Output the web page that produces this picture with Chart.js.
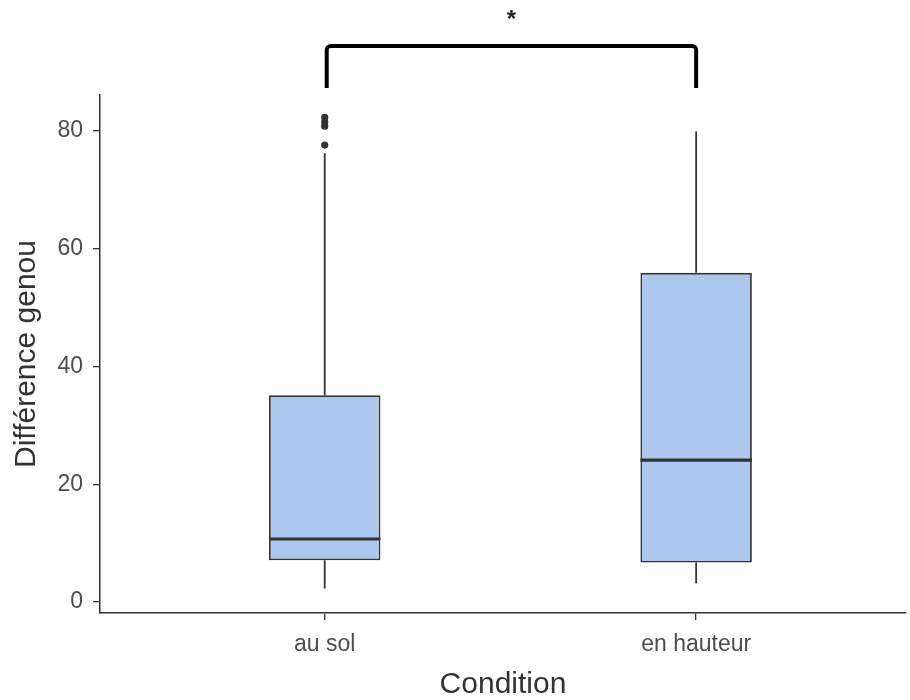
<!DOCTYPE html>
<html>
<head>
<meta charset="utf-8">
<script src="https://cdn.jsdelivr.net/npm/chart.js@4"></script>
<style>
  html, body { margin: 0; background: #fff; }
</style>
</head>
<body>
<canvas id="chart" width="910" height="700"></canvas>
<script>
// boxplot stats
const CATEGORIES = ['au sol', 'en hauteur'];
const WHISKER_LO = [2.3, 3.2];
const Q1 = [7.1, 6.7];
const MEDIAN = [10.7, 24.1];
const Q3 = [35.1, 55.9];
const WHISKER_HI = [76.2, 79.9];
const OUTLIERS = [[77.6, 80.8, 81.5, 82.3], []];
const Y_TICKS = [0, 20, 40, 60, 80];
const SIGNIF = '*';

const BOX_W = 0.3; // box width in x units
const FONT = '"Liberation Sans", Arial, sans-serif';
const TICK_COLOR = '#4d4d4d', LINE_COLOR = '#333333';

const whiskerData = [], medianData = [], outlierData = [];
CATEGORIES.forEach((c, i) => {
    const x = i + 1;
    whiskerData.push({x, y: WHISKER_LO[i]}, {x, y: Q1[i]}, {x, y: null},
                     {x, y: Q3[i]}, {x, y: WHISKER_HI[i]}, {x, y: null});
    medianData.push({x: x - BOX_W / 2, y: MEDIAN[i]}, {x: x + BOX_W / 2, y: MEDIAN[i]}, {x: x + 0.5, y: null});
    OUTLIERS[i].forEach(v => outlierData.push({x, y: v}));
});

// significance bracket drawn above the plot, anchored on the x scale
const bracketPlugin = {
    id: 'signifBracket',
    afterDraw(chart) {
        const {ctx, chartArea, scales: {x}} = chart;
        const x1 = x.getPixelForValue(1) + 2, x2 = x.getPixelForValue(2);
        const yBar = chartArea.top - 49, yLeg = chartArea.top - 7, r = 4;
        ctx.save();
        ctx.strokeStyle = '#000'; ctx.lineWidth = 4;
        ctx.beginPath();
        ctx.moveTo(x1, yLeg);
        ctx.arcTo(x1, yBar, x1 + r, yBar, r);
        ctx.arcTo(x2, yBar, x2, yBar + r, r);
        ctx.lineTo(x2, yLeg);
        ctx.stroke();
        ctx.fillStyle = '#222';
        ctx.font = 'bold 24px ' + FONT;
        ctx.textAlign = 'center'; ctx.textBaseline = 'alphabetic';
        ctx.fillText(SIGNIF, (x1 + x2) / 2, chartArea.top - 68);
        ctx.restore();
    }
};

const axisCommon = (title, titlePad) => ({
    type: 'linear',
    offset: false,
    border: {display: true, color: LINE_COLOR, width: 1.5},
    grid: {display: true, offset: false, drawOnChartArea: false, drawTicks: true, tickLength: 7, color: LINE_COLOR, lineWidth: 1.3},
    ticks: {font: {family: FONT, size: 23}, color: TICK_COLOR, padding: 10},
    title: {display: true, text: title, color: '#333', font: {family: FONT, size: 30, lineHeight: 1}, padding: titlePad}
});

const xAxis = axisCommon('Condition', {top: 0, bottom: 0});
Object.assign(xAxis, {
    min: 0.395, max: 2.565,
    afterBuildTicks: s => { s.ticks = CATEGORIES.map((c, i) => ({value: i + 1})); },
    afterFit: s => { s.height = 87; }
});
xAxis.ticks.callback = v => CATEGORIES[v - 1];
xAxis.ticks.autoSkip = false;
xAxis.ticks.maxRotation = 0;
xAxis.ticks.padding = 11;

const yAxis = axisCommon('Différence genou', {top: 12, bottom: 0});
Object.assign(yAxis, {
    min: -1.87, max: 86.1,
    afterBuildTicks: s => { s.ticks = Y_TICKS.map(v => ({value: v})); },
    afterFit: s => { s.width = 100; }
});

new Chart(document.getElementById('chart'), {
    type: 'bar',
    data: {
        datasets: [
            {type: 'line', data: whiskerData, borderColor: LINE_COLOR, borderWidth: 1.8, pointRadius: 0, spanGaps: false, order: 4},
            {type: 'bar', data: CATEGORIES.map((c, i) => ({x: i + 1, y: [Q1[i], Q3[i]]})),
             backgroundColor: '#adc8ef', borderColor: LINE_COLOR, borderWidth: 1.8, borderSkipped: false,
             barPercentage: BOX_W, categoryPercentage: 1, order: 3},
            {type: 'line', data: medianData, borderColor: LINE_COLOR, borderWidth: 3.2, pointRadius: 0, spanGaps: false, order: 2},
            {type: 'line', data: outlierData, showLine: false, pointRadius: 3.6, pointBackgroundColor: LINE_COLOR, pointBorderWidth: 0, order: 1}
        ]
    },
    options: {
        responsive: false,
        animation: false,
        layout: {padding: {top: 95, right: 0, left: 0, bottom: 0}},
        plugins: {legend: {display: false}, tooltip: {enabled: false}},
        scales: {x: xAxis, y: yAxis}
    },
    plugins: [bracketPlugin]
});
</script>
</body>
</html>
